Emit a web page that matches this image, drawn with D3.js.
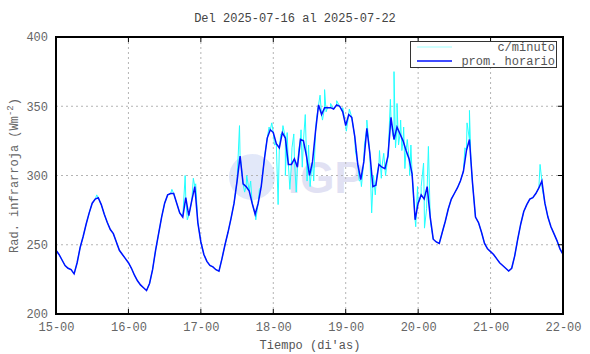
<!DOCTYPE html>
<html>
<head>
<meta charset="utf-8">
<script src="https://cdn.jsdelivr.net/npm/d3@7"></script>
<style>
  body { margin: 0; background: #fff; }
  svg { display: block; }
  text { font-family: "Liberation Mono", "DejaVu Sans Mono", monospace; }
</style>
</head>
<body>
<div id="chart"></div>
<script>

// dias (etiquetas del eje x), una cada 24 h
const dayLabels = ["15-00", "16-00", "17-00", "18-00", "19-00", "20-00", "21-00", "22-00"];
const yTicks = [200, 250, 300, 350, 400];

// promedio horario, desde 15-00 (h = 0) hasta 22-00 (h = 168)
const hourly15 = [246, 243, 239, 235, 233, 232, 229, 237, 248, 256, 265, 273, 280, 283, 284, 279, 272, 266, 261, 258, 252, 246, 243, 240];
const hourly16 = [237, 233, 228, 224, 221, 219, 217, 222, 232, 246, 258, 270, 280, 286, 287, 287, 280, 273, 270, 284, 271, 282, 292, 266];
const hourly17 = [252, 243, 238, 235, 234, 232, 231, 240, 250, 259, 269, 280, 296, 314, 294, 292, 289, 280, 272, 280, 292, 311, 327, 333];
const hourly18 = [331, 323, 320, 331, 327, 308, 308, 312, 306, 326, 325, 314, 300, 310, 332, 351, 344, 349, 349, 349, 348, 351, 350, 346];
const hourly19 = [336, 344, 342, 328, 308, 297, 310, 334, 316, 292, 293, 308, 306, 305, 314, 342, 326, 335, 330, 325, 318, 312, 301, 268];
const hourly20 = [280, 286, 283, 292, 270, 254, 252, 251, 259, 267, 276, 283, 287, 291, 296, 303, 318, 326, 295, 270, 266, 259, 251, 247];
const hourly21 = [245, 243, 240, 237, 235, 233, 231, 233, 242, 254, 265, 274, 279, 283, 284, 287, 291, 296, 280, 270, 263, 258, 253, 247];
const hourly22 = [243];

// picos del dato por minuto que sobresalen del promedio: [hora, valor]
const minuteSpikes = [
  [13.5, 286], [38.4, 290], [42.8, 300], [43.5, 268], [45.5, 298], [46.3, 294],
  [59.6, 290], [60.8, 336], [61.5, 305], [62.5, 288], [63.2, 300], [64.5, 296], [66.2, 268], [67.4, 290],
  [69.5, 320], [70.6, 335], [71.5, 338], [72.4, 322], [73.6, 279], [74.5, 330], [75.2, 336], [76.0, 300],
  [76.6, 331], [77.5, 290], [78.2, 320], [78.8, 330], [79.6, 288], [80.4, 318], [81.2, 333], [81.6, 306],
  [82.6, 344], [83.2, 296], [83.7, 322], [84.2, 292], [84.7, 305], [85.4, 296], [86.3, 340],
  [87.5, 358], [88.3, 340], [89.0, 362], [89.5, 346], [91.0, 352], [93.0, 354], [95.0, 349],
  [96.2, 332], [97.2, 348], [99.2, 318], [100.5, 296], [101.2, 292], [102.2, 322], [103.0, 340],
  [104.6, 273], [105.2, 300], [105.8, 286], [106.3, 300], [107.2, 318], [107.8, 298], [108.6, 316],
  [109.2, 300], [110.2, 322], [110.8, 355], [111.5, 330], [112.0, 375], [112.5, 320], [113.0, 352],
  [113.5, 322], [114.2, 340], [114.6, 318], [115.2, 335], [115.6, 305], [116.4, 326], [117.2, 300],
  [117.6, 322], [118.2, 295], [119.2, 263], [119.8, 292], [120.5, 282], [121.0, 292], [121.8, 309],
  [122.1, 262], [122.8, 276], [123.4, 321], [124.2, 265],
  [135.5, 320], [136.2, 338], [137.0, 347], [137.5, 310], [160.4, 308], [161.0, 292]
];

const hourlyValues = [].concat(hourly15, hourly16, hourly17, hourly18, hourly19, hourly20, hourly21, hourly22);
const hourlyData = hourlyValues.map((v, i) => [i, v]);
const minuteData = hourlyData.concat(minuteSpikes).sort((a, b) => a[0] - b[0]);

const [width, height] = [590, 354];
const margin = {top: 37, right: 27, bottom: 40, left: 56};

const svg = d3.select("#chart")
    .append("svg")
    .attr("width", width)
    .attr("height", height);

const x = d3.scaleLinear()
    .domain([0, 168])
    .range([margin.left, width - margin.right]);

const y = d3.scaleLinear()
    .domain([200, 400])
    .range([height - margin.bottom, margin.top]);

const dayTicks = dayLabels.map((d, i) => i * 24);

// marca de agua IGP
const wm = svg.append("g").attr("opacity", 0.85);
wm.append("circle")
    .attr("cx", 252).attr("cy", 177).attr("r", 23)
    .attr("fill", "#dde4f8");
wm.append("text")
    .attr("x", 288).attr("y", 193)
    .style("font-family", "'Liberation Sans', Arial, sans-serif")
    .style("font-weight", 700)
    .style("font-size", "44px")
    .attr("fill", "#dcdcf2")
    .text("IGP");

// rejilla punteada
svg.append("g")
    .selectAll("line")
    .data(dayTicks.slice(1, -1))
    .enter()
    .append("line")
    .attr("x1", d => x(d)).attr("x2", d => x(d))
    .attr("y1", y(200)).attr("y2", y(400))
    .attr("stroke", "#b4b4b4")
    .attr("stroke-dasharray", "2,3");

svg.append("g")
    .selectAll("line")
    .data(yTicks.slice(1, -1))
    .enter()
    .append("line")
    .attr("x1", x(0)).attr("x2", x(168))
    .attr("y1", d => y(d)).attr("y2", d => y(d))
    .attr("stroke", "#b4b4b4")
    .attr("stroke-dasharray", "2,3");

// series
const line = d3.line()
    .x(d => x(d[0]))
    .y(d => y(d[1]));

svg.append("path")
    .datum(minuteData)
    .attr("fill", "none")
    .attr("stroke", "#22ffff")
    .attr("stroke-width", 1)
    .attr("d", line);

svg.append("path")
    .datum(hourlyData)
    .attr("fill", "none")
    .attr("stroke", "#0010ff")
    .attr("stroke-width", 1.5)
    .attr("d", line);

// ejes
const xAxis = d3.axisBottom(x)
    .tickValues(dayTicks)
    .tickFormat((d, i) => dayLabels[i])
    .tickSize(0)
    .tickPadding(8);

const yAxis = d3.axisLeft(y)
    .tickValues(yTicks)
    .tickSize(0)
    .tickPadding(8);

const gx = svg.append("g")
    .attr("transform", `translate(0,${y(200)})`)
    .call(xAxis);
gx.select(".domain").remove();

const gy = svg.append("g")
    .attr("transform", `translate(${x(0)},0)`)
    .call(yAxis);
gy.select(".domain").remove();

svg.selectAll(".tick text")
    .attr("fill", "#666")
    .style("font-size", "12px");

// marcas hacia adentro: arriba, abajo y derecha
svg.append("g")
    .selectAll("line")
    .data(dayTicks.slice(1, -1))
    .enter()
    .append("line")
    .attr("x1", d => x(d)).attr("x2", d => x(d))
    .attr("y1", y(200)).attr("y2", y(200) - 5)
    .attr("stroke", "#000");

svg.append("g")
    .selectAll("line")
    .data(dayTicks.slice(1, -1))
    .enter()
    .append("line")
    .attr("x1", d => x(d)).attr("x2", d => x(d))
    .attr("y1", y(400)).attr("y2", y(400) + 5)
    .attr("stroke", "#000");

svg.append("g")
    .selectAll("line")
    .data(yTicks.slice(1, -1))
    .enter()
    .append("line")
    .attr("x1", x(168)).attr("x2", x(168) - 5)
    .attr("y1", d => y(d)).attr("y2", d => y(d))
    .attr("stroke", "#000");

// marco
svg.append("rect")
    .attr("x", x(0)).attr("y", y(400))
    .attr("width", x(168) - x(0))
    .attr("height", y(200) - y(400))
    .attr("fill", "none")
    .attr("stroke", "#000")
    .attr("stroke-width", 2);

// leyenda
const legend = svg.append("g");
legend.append("rect")
    .attr("x", 410.5).attr("y", 41.5)
    .attr("width", 146).attr("height", 26)
    .attr("fill", "#fff")
    .attr("stroke", "#333");

const legendItems = [["c/minuto", "#a0ffff"], ["prom. horario", "#0010ff"]];
legend.selectAll(".item")
    .data(legendItems)
    .enter()
    .append("line")
    .attr("x1", 417).attr("x2", 452)
    .attr("y1", (d, i) => 47 + i * 14).attr("y2", (d, i) => 47 + i * 14)
    .attr("stroke", d => d[1])
    .attr("stroke-width", (d, i) => i ? 1.5 : 1);

legend.selectAll(".label")
    .data(legendItems)
    .enter()
    .append("text")
    .attr("x", 555)
    .attr("y", (d, i) => 51 + i * 14)
    .attr("text-anchor", "end")
    .attr("fill", "#555")
    .style("font-size", "12px")
    .text(d => d[0]);

// titulos
svg.append("text")
    .attr("x", 295).attr("y", 22)
    .attr("text-anchor", "middle")
    .attr("fill", "#444")
    .style("font-size", "12px")
    .text("Del 2025-07-16 al 2025-07-22");

svg.append("text")
    .attr("x", 310).attr("y", 349)
    .attr("text-anchor", "middle")
    .attr("fill", "#555")
    .style("font-size", "12px")
    .text("Tiempo (di'as)");

const yl = svg.append("text")
    .attr("transform", `translate(18,${y(300)}) rotate(-90)`)
    .attr("text-anchor", "middle")
    .attr("fill", "#666")
    .style("font-size", "12px");
yl.append("tspan").text("Rad. infrarroja (Wm");
yl.append("tspan").attr("dy", -5).style("font-size", "9px").text("-2");
yl.append("tspan").attr("dy", 5).text(")");

</script>
</body>
</html>
